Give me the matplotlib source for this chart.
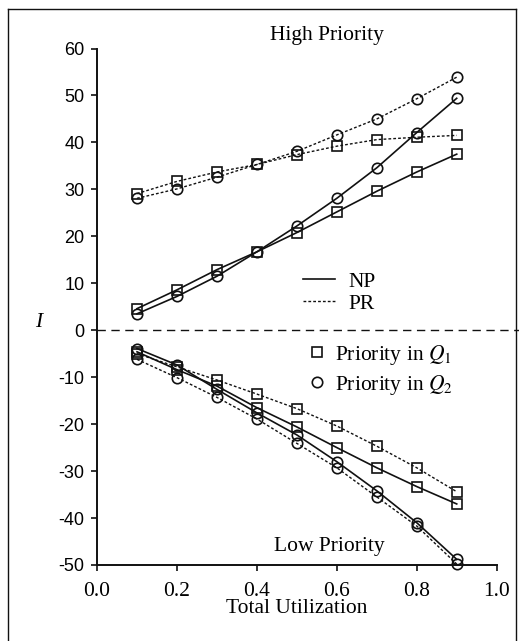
"""
Priority gain I versus total utilization (high and low priority classes)
"""
import matplotlib
matplotlib.use('Agg')
import matplotlib.pyplot as plt
from matplotlib.lines import Line2D


# Total utilization on the x axis
utilizacion = [0.1, 0.2, 0.3, 0.4, 0.5, 0.6, 0.7, 0.8, 0.9]

# High priority class
alta_np_q1 = [4.6, 8.6, 12.9, 16.7, 20.8, 25.2, 29.6, 33.7, 37.5]
alta_np_q2 = [3.5, 7.2, 11.5, 16.7, 22.2, 28.1, 34.6, 42.1, 49.4]
alta_pr_q1 = [29.1, 31.7, 33.7, 35.3, 37.4, 39.2, 40.6, 41.1, 41.5]
alta_pr_q2 = [28.1, 30.1, 32.6, 35.3, 38.1, 41.6, 45.0, 49.3, 53.9]

# Low priority class
baja_np_q1 = [-4.6, -8.4, -11.9, -16.5, -20.6, -25.0, -29.3, -33.3, -37.0]
baja_np_q2 = [-3.9, -7.4, -12.6, -17.6, -22.3, -28.0, -34.2, -41.0, -48.8]
baja_pr_q1 = [-5.0, -7.8, -10.6, -13.6, -16.7, -20.4, -24.7, -29.3, -34.4]
baja_pr_q2 = [-6.2, -10.1, -14.3, -18.9, -24.1, -29.3, -35.5, -41.7, -49.8]

ticks_x = [0.0, 0.2, 0.4, 0.6, 0.8, 1.0]
etiquetas_x = ['0.0', '0.2', '0.4', '0.6', '0.8', '1.0']
ticks_y = [-50, -40, -30, -20, -10, 0, 10, 20, 30, 40, 50, 60]

plt.rcParams['axes.unicode_minus'] = False
plt.rcParams['mathtext.fontset'] = 'stix'

SERIF = 'Liberation Serif'
SANS = 'Liberation Sans'
NEGRO = '#111111'

fig = plt.figure(figsize=(5.19, 6.41), dpi=100, facecolor='white')
ax = fig.add_axes([0.187, 0.1186, 0.770, 0.8057])

estilo_np = dict(color=NEGRO, linestyle='-', linewidth=1.2)
estilo_pr = dict(color=NEGRO, linestyle=(0, (2.0, 1.5)), linewidth=1.0)
marca = dict(markersize=7.5, markerfacecolor='none', markeredgecolor=NEGRO,
             markeredgewidth=1.2)

series = [
    (alta_np_q1, estilo_np, 's'), (alta_np_q2, estilo_np, 'o'),
    (alta_pr_q1, estilo_pr, 's'), (alta_pr_q2, estilo_pr, 'o'),
    (baja_np_q1, estilo_np, 's'), (baja_np_q2, estilo_np, 'o'),
    (baja_pr_q1, estilo_pr, 's'), (baja_pr_q2, estilo_pr, 'o'),
]
for valores, estilo, simbolo in series:
    ax.plot(utilizacion, valores, marker=simbolo, clip_on=False, **estilo, **marca)

# Zero line runs past the axes to the page edge
ax.plot([0, 1.06], [0, 0], color=NEGRO, linestyle=(0, (6, 4)), linewidth=1.0,
        clip_on=False)

ax.set_xlim(0, 1.0)
ax.set_ylim(-50, 60)
ax.spines['top'].set_visible(False)
ax.spines['right'].set_visible(False)
for lado in ['left', 'bottom']:
    ax.spines[lado].set_linewidth(1.4)
    ax.spines[lado].set_color(NEGRO)

ax.set_xticks(ticks_x)
ax.set_xticklabels(etiquetas_x, fontfamily=SERIF, fontsize=15.5)
ax.set_yticks(ticks_y)
ax.set_yticklabels([str(v) for v in ticks_y], fontfamily=SANS, fontsize=13)
ax.tick_params(direction='out', length=4, width=1.2, color=NEGRO)
ax.tick_params(axis='x', pad=8)
ax.tick_params(axis='y', pad=5)

ax.set_xlabel('Total Utilization', fontfamily=SERIF, fontsize=15.5, labelpad=-1)
ax.set_ylabel('I', fontfamily=SERIF, fontstyle='italic', fontsize=15.5,
              rotation=0, labelpad=0)
ax.yaxis.set_label_coords(-0.145, 0.452)

ax.text(0.575, 62.8, 'High Priority', fontfamily=SERIF, fontsize=15.5,
        ha='center', va='center')
ax.text(0.58, -46.1, 'Low Priority', fontfamily=SERIF, fontsize=15.5,
        ha='center', va='center')

# Legend for line style
lineas = [Line2D([], [], **estilo_np), Line2D([], [], **estilo_pr)]
leg1 = ax.legend(lineas, ['NP', 'PR'], loc='center left',
                 bbox_to_anchor=(0.467, 0.527), frameon=False,
                 prop={'family': SERIF, 'size': 15.5}, handlelength=1.5,
                 handletextpad=0.6, labelspacing=0.1)
ax.add_artist(leg1)

# Legend for marker shape
simbolos = [Line2D([], [], linestyle='none', marker='s', **marca),
            Line2D([], [], linestyle='none', marker='o', **marca)]
ax.legend(simbolos, ['Priority in $Q_1$', 'Priority in $Q_2$'],
          loc='center left', bbox_to_anchor=(0.475, 0.378), frameon=False,
          prop={'family': SERIF, 'size': 15.5}, handlelength=1.0,
          handletextpad=0.35, labelspacing=0.3)

# Page frame: left, top and right edges
borde = dict(color=NEGRO, linewidth=1.0, transform=fig.transFigure)
fig.add_artist(Line2D([8 / 519, 8 / 519], [0, 1 - 9 / 641], **borde))
fig.add_artist(Line2D([8 / 519, 516 / 519], [1 - 9 / 641, 1 - 9 / 641], **borde))
fig.add_artist(Line2D([516 / 519, 516 / 519], [0, 1 - 9 / 641], **borde))

fig.savefig('out.png', dpi=100, facecolor='white')
